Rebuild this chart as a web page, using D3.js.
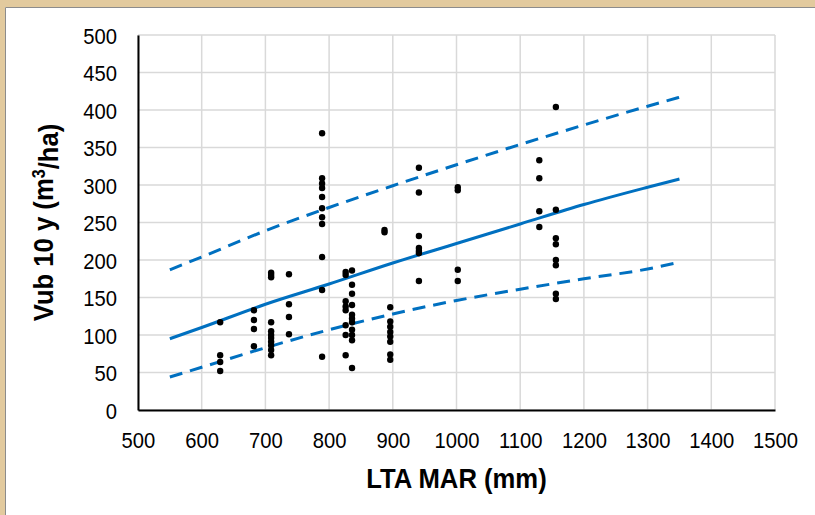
<!DOCTYPE html>
<html>
<head>
<meta charset="utf-8">
<script src="https://cdn.jsdelivr.net/npm/d3@7/dist/d3.min.js"></script>
<style>
  html, body { margin: 0; padding: 0; background: #fff; }
  svg { display: block; }
</style>
</head>
<body>
<div id="chart"></div>
<script>
// Observed points (LTA MAR in mm, Vub 10 y in m3/ha), read column by column
const marValues = [
  629, 629, 629, 629,
  682, 682, 682, 682,
  709, 709, 709, 709, 709, 709, 709, 709, 709, 709, 709,
  737, 737, 737, 737,
  789, 789, 789, 789, 789, 789, 789, 789, 789, 789, 789,
  826, 826, 826, 826, 826, 826, 826, 826,
  836, 836, 836, 836, 836, 836, 836, 836, 836, 836, 836,
  887, 887,
  896, 896, 896, 896, 896, 896, 896, 896,
  941, 941, 941, 941, 941, 941, 941,
  1002, 1002, 1002, 1002,
  1130, 1130, 1130, 1130,
  1156, 1156, 1156, 1156, 1156, 1156, 1156, 1156
];
const vubValues = [
  117, 73, 64, 52,
  133, 120, 108, 85,
  183, 180, 177, 117, 105, 100, 96, 91, 86, 80, 73,
  181, 141, 124, 101,
  369, 309, 302, 296, 284, 269, 257, 248, 204, 160, 71,
  184, 180, 145, 138, 133, 113, 100, 73,
  186, 167, 155, 140, 127, 122, 117, 107, 100, 93, 56,
  240, 237,
  137, 118, 111, 104, 98, 91, 74, 67,
  323, 290, 232, 216, 212, 209, 172,
  297, 293, 187, 172,
  333, 309, 265, 244,
  404, 267, 229, 221, 200, 193, 155, 148
];

// Fitted curve and the two bounds
const fitX = [550, 600, 700, 800, 900, 1000, 1100, 1200, 1300, 1350];
const fitMid = [95, 110, 141, 168, 196, 222, 248, 274, 297, 308];
const fitUpper = [187, 204, 239, 270, 299, 327, 354, 380, 405, 417];
const fitLower = [44, 57, 83, 107, 128, 146, 161, 175, 188, 197];

const xTicks = [500, 600, 700, 800, 900, 1000, 1100, 1200, 1300, 1400, 1500];
const yTicks = [0, 50, 100, 150, 200, 250, 300, 350, 400, 450, 500];

const W = 815, H = 515;
const margin = { top: 35, right: 40, bottom: 105, left: 138 };
const blue = "#0070C0";
const font = "'Liberation Sans', Arial, sans-serif";

const svg = d3.select("#chart").append("svg")
  .attr("width", W)
  .attr("height", H);

// beige frame on the top and left edges
svg.append("rect").attr("x", 0).attr("y", 0).attr("width", W).attr("height", 7).attr("fill", "#E2CA9E");
svg.append("rect").attr("x", 0).attr("y", 0).attr("width", 5).attr("height", H).attr("fill", "#E2CA9E");
svg.append("line").attr("x1", 5.5).attr("x2", W).attr("y1", 7.5).attr("y2", 7.5)
  .attr("stroke", "#8c8c8c").attr("stroke-width", 1);
svg.append("line").attr("x1", 5.5).attr("x2", 5.5).attr("y1", 7.5).attr("y2", H)
  .attr("stroke", "#8c8c8c").attr("stroke-width", 1);

const x = d3.scaleLinear().domain([500, 1500]).range([margin.left, W - margin.right]);
const y = d3.scaleLinear().domain([0, 500]).range([H - margin.bottom, margin.top]);

const g = svg.append("g");

// gridlines
g.selectAll("line.vgrid")
  .data(xTicks)
  .enter().append("line")
  .attr("class", "vgrid")
  .attr("x1", d => x(d)).attr("x2", d => x(d))
  .attr("y1", y(0)).attr("y2", y(500))
  .attr("stroke", "#d9d9d9").attr("stroke-width", 1.5);

g.selectAll("line.hgrid")
  .data(yTicks)
  .enter().append("line")
  .attr("class", "hgrid")
  .attr("x1", x(500)).attr("x2", x(1500))
  .attr("y1", d => y(d)).attr("y2", d => y(d))
  .attr("stroke", "#d9d9d9").attr("stroke-width", 1.5);

// axes without tick marks, labels only
const xAxis = d3.axisBottom(x).tickValues(xTicks).tickSize(0).tickPadding(0).tickFormat(d3.format("d"));
const yAxis = d3.axisLeft(y).tickValues(yTicks).tickSize(0).tickPadding(0).tickFormat(d3.format("d"));

const gx = g.append("g").attr("transform", `translate(0,${y(0)})`).call(xAxis);
const gy = g.append("g").attr("transform", `translate(${x(500)},0)`).call(yAxis);

[gx, gy].forEach(a => {
  a.select(".domain").attr("stroke", "#000").attr("stroke-width", 2);
  a.selectAll("text")
    .style("font-family", font)
    .style("font-size", "22px")
    .attr("fill", "#000");
});
// slightly condensed digits, like the original rendering
gx.selectAll("text").attr("x", null).attr("y", null).attr("dy", null)
  .attr("transform", "translate(0,38) scale(0.92,1)");
gy.selectAll("text").attr("x", null).attr("dy", null)
  .attr("transform", "translate(-21,8) scale(0.92,1)");

// fitted lines
const line = d3.line()
  .x((d, i) => x(fitX[i]))
  .y(d => y(d))
  .curve(d3.curveMonotoneX);

g.append("path").datum(fitUpper)
  .attr("d", line).attr("fill", "none")
  .attr("stroke", blue).attr("stroke-width", 3)
  .attr("stroke-dasharray", "13,8");

g.append("path").datum(fitLower)
  .attr("d", line).attr("fill", "none")
  .attr("stroke", blue).attr("stroke-width", 3)
  .attr("stroke-dasharray", "13,8");

g.append("path").datum(fitMid)
  .attr("d", line).attr("fill", "none")
  .attr("stroke", blue).attr("stroke-width", 3);

// observed points
g.selectAll("circle.pt")
  .data(marValues)
  .enter().append("circle")
  .attr("class", "pt")
  .attr("cx", d => x(d))
  .attr("cy", (d, i) => y(vubValues[i]))
  .attr("r", 3.2)
  .attr("fill", "#000");

// axis titles
svg.append("text")
  .attr("transform", `translate(${(x(500) + x(1500)) / 2},488) scale(0.95,1.05)`)
  .attr("text-anchor", "middle")
  .style("font-family", font)
  .style("font-size", "27px")
  .style("font-weight", "bold")
  .text("LTA MAR (mm)");

const yt = svg.append("text")
  .attr("transform", `translate(53,${(y(0) + y(500)) / 2}) rotate(-90) scale(0.95,1.05)`)
  .attr("text-anchor", "middle")
  .style("font-family", font)
  .style("font-size", "27px")
  .style("font-weight", "bold");
yt.append("tspan").text("Vub 10 y (m");
yt.append("tspan").attr("dy", "-0.45em").style("font-size", "17px").text("3");
yt.append("tspan").attr("dy", "0.45em").text("/ha)");
</script>
</body>
</html>
